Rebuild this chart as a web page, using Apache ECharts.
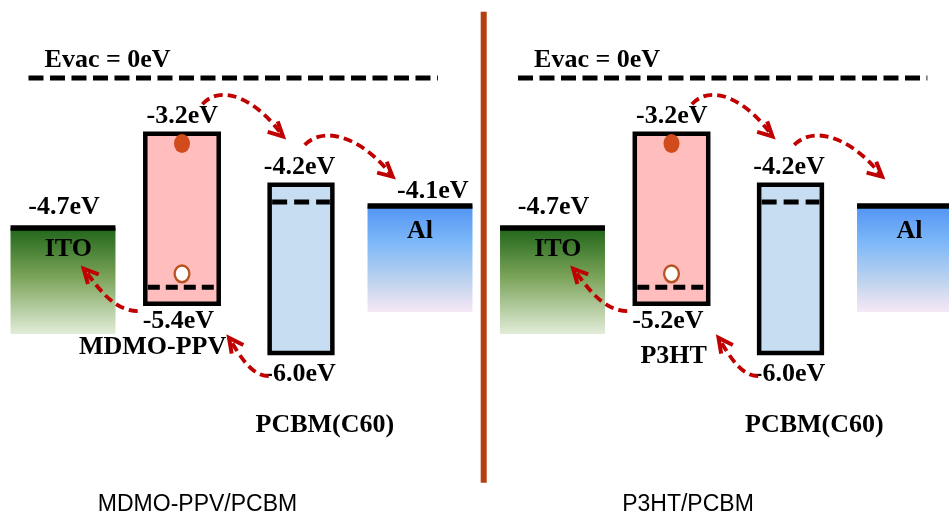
<!DOCTYPE html>
<html><head><meta charset="utf-8">
<script src="https://cdn.jsdelivr.net/npm/echarts@6/dist/echarts.min.js"></script>
<style>html,body{margin:0;padding:0;background:#fff}#chart{width:949px;height:516px}</style>
</head><body><div id="chart"></div>
<script>
// ================= DATA =================
const panelTitles = ['MDMO-PPV/PCBM', 'P3HT/PCBM'];
const columnRoles = ['anode', 'donor', 'acceptor', 'cathode'];
const materialNames = [
  ['ITO', 'MDMO-PPV', 'PCBM(C60)', 'Al'],
  ['ITO', 'P3HT', 'PCBM(C60)', 'Al']
];
// LUMO (or work function for the electrodes), eV
const upperEnergyEV = [[-4.7, -3.2, -4.2, -4.1], [-4.7, -3.2, -4.2, -4.1]];
// HOMO, eV
const lowerEnergyEV = [[null, -5.4, -6.0, null], [null, -5.2, -6.0, null]];
const upperLabelShown = [[true, true, true, true], [true, true, true, false]];
// the figure is a not-to-scale schematic: level heights as drawn, in diagram units (Evac = 0)
const upperLevelDrawn = [[-3.26, -1.21, -2.32, -2.78], [-3.26, -1.21, -2.32, -2.78]];
const lowerLevelDrawn = [[null, -4.91, -5.98, null], [null, -4.91, -5.98, null]];
const evacLevel = 0;
const evacLabel = 'Evac = 0eV';
// charge transfers: [from column, from level, to column, to level]
const transfers = [
  [1, 'upper', 2, 'upper'],
  [2, 'upper', 3, 'upper'],
  [1, 'lower', 0, 'upper'],
  [2, 'lower', 1, 'lower']
];

// ================= LAYOUT / STYLE =================
const GRID_LEFT = [3.5, 493], GRID_WIDTH = 476;
const SERIF = 'bold 26px "Liberation Serif", "Times New Roman", serif';
const widthFrac = {anode: 0.882, donor: 0.617, acceptor: 0.527, cathode: 0.882};
const ELECTRODE_DEPTH = 106;
const RED = '#c00000';
const labelOffsets = {
  anode:    {up: [1, -20.5], name: [5.3, 21]},
  cathode:  {up: [12.8, -15], name: [0, 25]},
  donor:    {up: [0.3, -16.9], low: [-3.6, 17.7]},
  acceptor: {up: [-1.5, -17.8], low: [-1, 20.8], name: [23.9, 71.8]}
};
const donorNameOffset = [[-29.4, 43.8], [2.2, 52]];
const arrowLayout = [
  {start: [20.4, -29.5], end: [-18, -48.3], arc: 'over'},
  {start: [3.7, -39.8], end: [-27.4, -29.3], arc: 'over'},
  {start: [-44.3, 7.2], end: [20.7, 40.7], arc: 'under'},
  {start: [-32.3, 23.1], end: [47, 34], arc: 'under'}
];

function evText(v) { return (v < 0 ? '-' : '') + Math.abs(v).toFixed(1) + 'eV'; }
function txt(x, y, text, font, align) {
  return {type: 'text', x: x, y: y, style: {text: text, font: font || SERIF, fill: '#000',
    align: align || 'center', verticalAlign: 'middle'}};
}
const itoGrad = new echarts.graphic.LinearGradient(0, 0, 0, 1, [
  {offset: 0, color: '#21661a'}, {offset: 0.45, color: '#78a257'}, {offset: 1, color: '#e2ecd8'}]);
const alGrad = new echarts.graphic.LinearGradient(0, 0, 0, 1, [
  {offset: 0, color: '#5294f4'}, {offset: 0.35, color: '#7db8f8'}, {offset: 0.7, color: '#bcd2ee'}, {offset: 1, color: '#f7e8f6'}]);

function electrodeRenderer(p) {
  return function (params, api) {
    const c = api.value(0), lvl = api.value(1);
    const role = columnRoles[c];
    const pt = api.coord([c, lvl]);
    const w = api.size([1, 0])[0] * widthFrac[role];
    const x0 = pt[0] - w / 2, y = pt[1];
    const o = labelOffsets[role];
    const ch = [
      {type: 'rect', shape: {x: x0, y: y, width: w, height: ELECTRODE_DEPTH}, style: {fill: role === 'anode' ? itoGrad : alGrad}},
      {type: 'line', shape: {x1: x0, y1: y, x2: x0 + w, y2: y}, style: {stroke: '#000', lineWidth: 5.5}},
      txt(pt[0] + o.name[0], y + o.name[1], materialNames[p][c])
    ];
    if (upperLabelShown[p][c]) ch.push(txt(pt[0] + o.up[0], y + o.up[1], evText(upperEnergyEV[p][c])));
    return {type: 'group', children: ch};
  };
}

function boxRenderer(p) {
  return function (params, api) {
    const c = api.value(0);
    const role = columnRoles[c];
    const top = api.coord([c, api.value(1)]), bot = api.coord([c, api.value(2)]);
    const w = api.size([1, 0])[0] * widthFrac[role];
    const cx = top[0], x0 = cx - w / 2;
    const o = labelOffsets[role];
    const ch = [
      {type: 'rect', shape: {x: x0, y: top[1], width: w, height: bot[1] - top[1]},
        style: {fill: role === 'donor' ? '#ffbdbd' : '#c7ddf1', stroke: '#000', lineWidth: 4.5}}
    ];
    const dy = role === 'donor' ? bot[1] - 16.7 : top[1] + 17.2;
    ch.push({type: 'line', shape: {x1: x0 + 2.5, y1: dy, x2: x0 + w - 2.5, y2: dy},
      style: {stroke: '#000', lineWidth: 5, lineDash: role === 'donor' ? [12, 6] : [15, 7]}});
    if (role === 'donor') {
      ch.push({type: 'circle', x: cx, y: top[1] + 9.8, scaleY: 1.19, shape: {cx: 0, cy: 0, r: 8}, style: {fill: '#d24b1d'}});
      ch.push({type: 'circle', x: cx, y: bot[1] - 30, scaleY: 1.13, shape: {cx: 0, cy: 0, r: 7.4},
        style: {fill: '#fff', stroke: '#b9531f', lineWidth: 2.3}});
    }
    ch.push(txt(cx + o.up[0], top[1] + o.up[1], evText(upperEnergyEV[p][c])));
    ch.push(txt(cx + o.low[0], bot[1] + o.low[1], evText(lowerEnergyEV[p][c])));
    const no = role === 'donor' ? donorNameOffset[p] : o.name;
    ch.push(txt(cx + no[0], bot[1] + no[1], materialNames[p][c]));
    return {type: 'group', children: ch};
  };
}

function arrowRenderer(p) {
  return function (params, api) {
    const i = api.value(0);
    const t = transfers[i];
    const lv = (side, c) => (side === 'upper' ? upperLevelDrawn : lowerLevelDrawn)[p][c];
    const a = api.coord([t[0], lv(t[1], t[0])]), b = api.coord([t[2], lv(t[3], t[2])]);
    const L = arrowLayout[i];
    const P0 = [a[0] + L.start[0], a[1] + L.start[1]];
    const P3 = [b[0] + L.end[0], b[1] + L.end[1]];
    const dx = P3[0] - P0[0], dy = P3[1] - P0[1];
    let P1, P2;
    if (L.arc === 'over') { P1 = [P0[0] + 0.25 * dx, P0[1] - 22]; P2 = [P3[0] - 0.3 * dx, P3[1] - 35]; }
    else { P1 = [P0[0] + 0.45 * dx, P0[1]]; P2 = [P3[0] - 0.25 * dx, P3[1] - 0.42 * dy]; }
    const nrm = v => { const l = Math.hypot(v[0], v[1]); return [v[0] / l, v[1] / l]; };
    const tb = nrm([P2[0] - P3[0], P2[1] - P3[1]]), cb = nrm([P0[0] - P3[0], P0[1] - P3[1]]);
    const bk = nrm([0.65 * tb[0] + 0.35 * cb[0], 0.65 * tb[1] + 0.35 * cb[1]]);
    const ang = Math.atan2(bk[1], bk[0]), h = 27 * Math.PI / 180, len = 16;
    const arm1 = [P3[0] + len * Math.cos(ang + h), P3[1] + len * Math.sin(ang + h)];
    const arm2 = [P3[0] + len * Math.cos(ang - h), P3[1] + len * Math.sin(ang - h)];
    return {type: 'group', children: [
      {type: 'bezierCurve', shape: {x1: P0[0], y1: P0[1], cpx1: P1[0], cpy1: P1[1], cpx2: P2[0], cpy2: P2[1], x2: P3[0], y2: P3[1]},
        style: {stroke: RED, lineWidth: 3.8, lineDash: [9, 5], fill: null}},
      {type: 'polyline', shape: {points: [arm1, P3, arm2]}, style: {stroke: RED, lineWidth: 4, fill: null, lineJoin: 'miter'}}
    ]};
  };
}

function evacRenderer(p) {
  return function (params, api) {
    const l = api.value(0);
    const a = api.coord([-0.29, l]), b = api.coord([3.15, l]);
    const lab = api.coord([-0.155, l]);
    return {type: 'group', children: [
      {type: 'line', shape: {x1: a[0], y1: a[1], x2: b[0], y2: b[1]}, style: {stroke: '#000', lineWidth: 5, lineDash: [15, 6.5]}},
      txt(lab[0], lab[1] - 18, evacLabel, SERIF, 'left')
    ]};
  };
}

const grid = [], xAxis = [], yAxis = [], series = [];
for (let p = 0; p < 2; p++) {
  grid.push({left: GRID_LEFT[p], width: GRID_WIDTH, top: 9, bottom: 24, outerBoundsMode: 'none', containLabel: false});
  xAxis.push({type: 'value', gridIndex: p, min: -0.5, max: 3.5, show: false});
  yAxis.push({type: 'value', gridIndex: p, min: -9, max: 1.5, show: false});
  const eData = [], bData = [];
  columnRoles.forEach((role, c) => {
    if (role === 'anode' || role === 'cathode') eData.push([c, upperLevelDrawn[p][c]]);
    else bData.push([c, upperLevelDrawn[p][c], lowerLevelDrawn[p][c]]);
  });
  const common = {type: 'custom', xAxisIndex: p, yAxisIndex: p, silent: true, clip: false};
  series.push(Object.assign({}, common, {data: [[evacLevel]], renderItem: evacRenderer(p), z: 2}));
  series.push(Object.assign({}, common, {data: eData, renderItem: electrodeRenderer(p), z: 3}));
  series.push(Object.assign({}, common, {data: bData, renderItem: boxRenderer(p), z: 4}));
  series.push(Object.assign({}, common, {data: transfers.map((t, i) => [i]), renderItem: arrowRenderer(p), z: 5}));
}

const chart = echarts.init(document.getElementById('chart'));
chart.setOption({
  animation: false,
  backgroundColor: '#fff',
  grid: grid, xAxis: xAxis, yAxis: yAxis, series: series,
  graphic: [
    {type: 'rect', shape: {x: 480.7, y: 11.7, width: 6, height: 471}, style: {fill: '#b5400f'}, silent: true},
    {type: 'text', x: 197.5, y: 505, style: {text: panelTitles[0], font: '23px "Liberation Sans", Arial, sans-serif', fill: '#000', align: 'center', verticalAlign: 'middle'}},
    {type: 'text', x: 688, y: 505, style: {text: panelTitles[1], font: '23px "Liberation Sans", Arial, sans-serif', fill: '#000', align: 'center', verticalAlign: 'middle'}}
  ]
});
</script></body></html>
